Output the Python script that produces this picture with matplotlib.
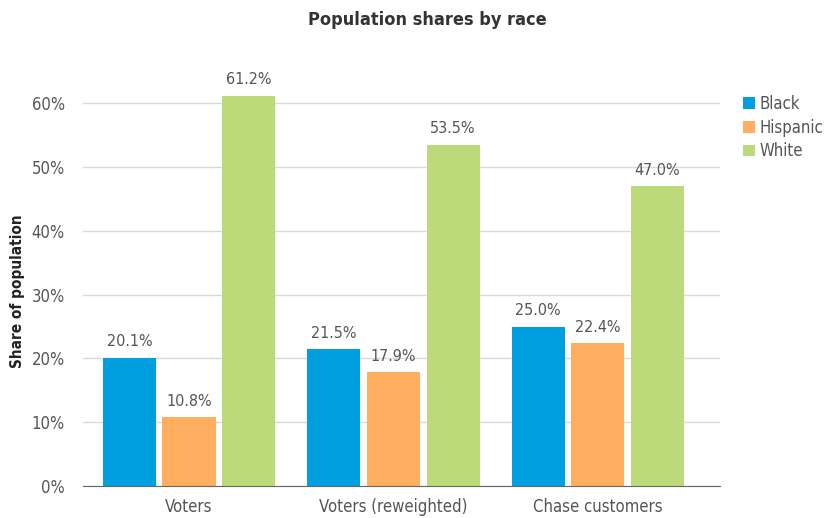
import numpy as np
import matplotlib.pyplot as plt

# Population shares (%) by group and race
groups = ["Voters", "Voters (reweighted)", "Chase customers"]
races = ["Black", "Hispanic", "White"]
black = [20.1, 21.5, 25.0]
hispanic = [10.8, 17.9, 22.4]
white = [61.2, 53.5, 47.0]
colors = ["#009FDF", "#FFAD5E", "#BCDA7A"]
yticks = [0, 10, 20, 30, 40, 50, 60]

plt.rcParams["font.family"] = ["DejaVu Sans"]
plt.rcParams["font.stretch"] = "condensed"

fig = plt.figure(figsize=(8.28, 5.18), dpi=100)
ax = fig.add_axes([0.100, 0.0618, 0.770, 0.8127])

x = np.arange(len(groups))
width = 0.26
step = 0.292
series = [black, hispanic, white]
for i, (vals, color, name) in enumerate(zip(series, colors, races)):
    pos = x + (i - 1) * step
    bars = ax.bar(pos, vals, width, color=color, label=name, zorder=3)
    for b, v in zip(bars, vals):
        ax.text(b.get_x() + b.get_width() / 2, v + 1.3, f"{v:.1f}%",
                ha="center", va="bottom", fontsize=11.5, color="#555555")

ax.set_xlim(-0.52, 2.60)
ax.set_ylim(0, 66)
ax.set_yticks(yticks)
ax.set_yticklabels([f"{t}%" for t in yticks], fontsize=12, color="#555555")
ax.set_xticks(x)
ax.set_xticklabels(groups, fontsize=12, color="#555555")
ax.tick_params(axis="y", length=0, pad=13)
ax.tick_params(axis="x", length=0, pad=9)
ax.yaxis.grid(True, color="#d9d9d9", linewidth=1, zorder=0)
for side in ["top", "right", "left"]:
    ax.spines[side].set_visible(False)
ax.spines["bottom"].set_color("#666666")
ax.spines["bottom"].set_zorder(4)

ax.set_ylabel("Share of population", fontsize=11, fontweight="bold",
              color="#222222")
ax.yaxis.set_label_coords(-0.091, 0.463)
fig.text(0.516, 0.962, "Population shares by race", ha="center",
         va="center", fontsize=13, fontweight="bold", color="#333333")

ax.legend(loc="upper left", bbox_to_anchor=(1.012, 0.965), frameon=False,
          fontsize=12, handlelength=0.7, handleheight=0.7,
          handletextpad=0.3, labelspacing=0.35, labelcolor="#555555")

fig.savefig("out.png", dpi=100)
